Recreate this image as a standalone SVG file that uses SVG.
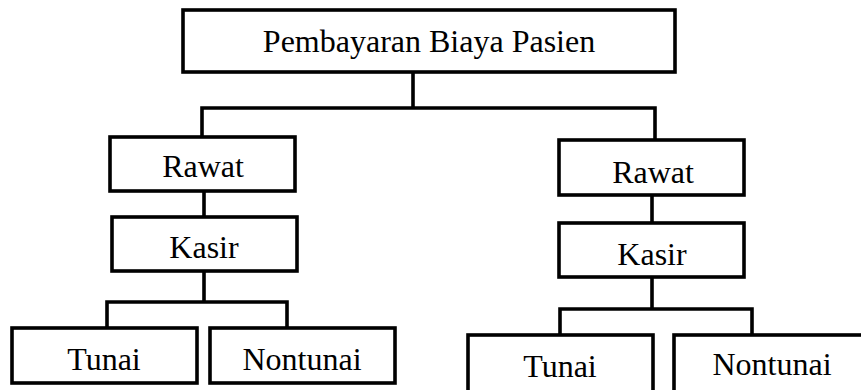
<svg xmlns="http://www.w3.org/2000/svg" width="861" height="390" viewBox="0 0 861 390">
<style>
.box{fill:#fff;stroke:#000;stroke-width:3.6}
.ln{fill:none;stroke:#000;stroke-width:3.6;stroke-linecap:square}
text{font-family:"Liberation Serif","Times New Roman",serif;font-size:32px;fill:#000;text-anchor:middle}
</style>
<rect width="861" height="390" fill="#fff"/>
<g id="connectors">
<path class="ln" d="M413,72V108M202,108H655M202,108V137M655,108V140"/>
<path class="ln" d="M204,191V217M204,271V302M107,302H287M107,302V328M287,302V328"/>
<path class="ln" d="M652,195V223M652,277V309M560,309H752M560,309V335M752,309V335"/>
</g>
<g id="root"><rect class="box" x="183" y="10" width="492" height="62"/><text x="429" y="52">Pembayaran Biaya Pasien</text></g>
<g id="rawat-left"><rect class="box" x="110" y="137" width="185" height="54"/><text x="203" y="177">Rawat</text></g>
<g id="kasir-left"><rect class="box" x="112" y="217" width="185" height="54"/><text x="204" y="258">Kasir</text></g>
<g id="tunai-left"><rect class="box" x="12" y="328" width="185" height="55"/><text x="104" y="370">Tunai</text></g>
<g id="nontunai-left"><rect class="box" x="210" y="328" width="185" height="55"/><text x="302" y="370" font-size="33">Nontunai</text></g>
<g id="rawat-right"><rect class="box" x="559" y="140" width="185" height="55"/><text x="653" y="183" font-size="34">Rawat</text></g>
<g id="kasir-right"><rect class="box" x="559" y="223" width="185" height="54"/><text x="652" y="265">Kasir</text></g>
<g id="tunai-right"><rect class="box" x="468" y="335" width="185" height="57"/><text x="560" y="377">Tunai</text></g>
<g id="nontunai-right"><rect class="box" x="674" y="335" width="196" height="57"/><text x="772" y="375" font-size="33">Nontunai</text></g>
</svg>
